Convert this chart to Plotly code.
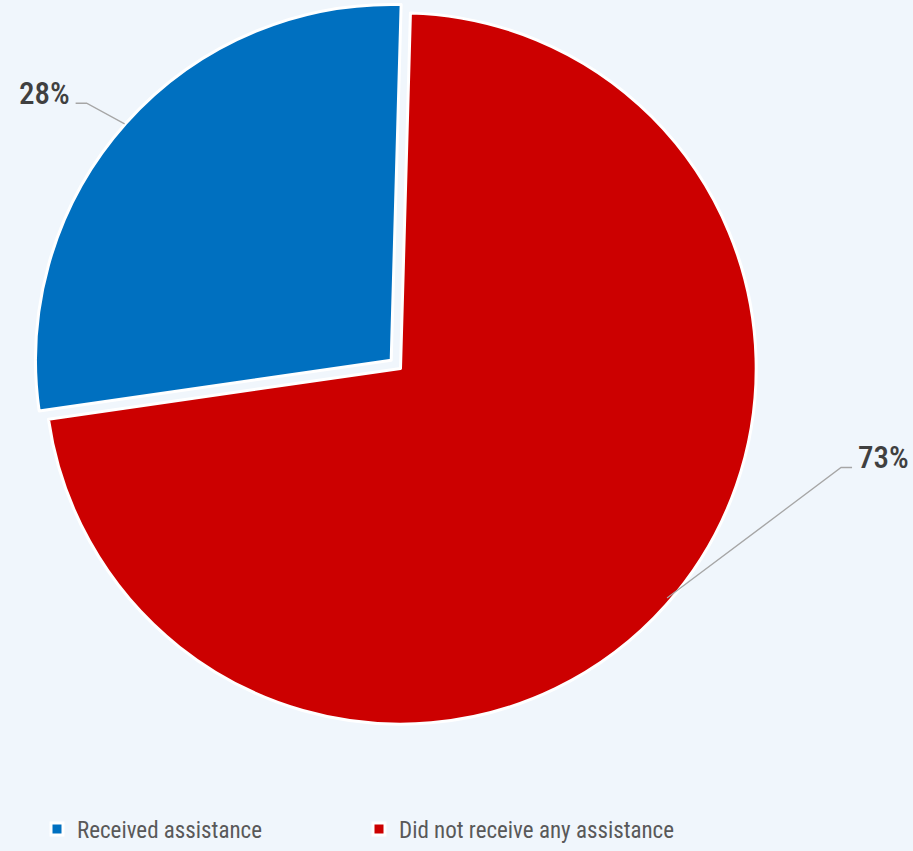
import math
import plotly.graph_objects as go

labels = ["Received assistance", "Did not receive any assistance"]
values = [28, 73]
colors = ["#0070C0", "#CC0000"]
pulls = [0.035, 0]

W, H = 913, 851
BG = "#F0F6FC"
FONT = "Roboto Condensed, Liberation Sans, sans-serif"

# geometry (pixels)
cx, cy, R = 400.5, 372, 357
start_angle = 1.6          # boundary between the slices at the top (deg clockwise from 12 o'clock)
total = sum(values)
# plotly places the first slice clockwise of `rotation`; we want it counterclockwise of start_angle
rotation = start_angle - values[0] / total * 360
# plotly draws the pie a little smaller than the domain box; compensate
avail = (R + 5.5) * (1 + max(pulls))
dom_cy = cy + 3.5

fig = go.Figure(go.Pie(
    labels=labels, values=values, sort=False, direction="counterclockwise",
    rotation=rotation, pull=pulls, textinfo="none", hoverinfo="label+percent",
    marker=dict(colors=colors, line=dict(color="white", width=3)),
    domain=dict(x=[(cx - avail) / W, (cx + avail) / W],
                y=[max(0, 1 - (dom_cy + avail) / H), min(1, 1 - (dom_cy - avail) / H)]),
))

def px2paper(x, y):
    return x / W, 1 - y / H

# label leader lines computed from the slice angles (slices run counterclockwise on screen)
cum = 0
label_style = [(-38, -21, -11), (174, -133, 11)]  # elbow offset dx, dy, horizontal run
for i, v in enumerate(values):
    frac = v / total
    mid = start_angle - (cum + frac / 2) * 360
    cum += frac
    a = math.radians(mid)
    ux, uy = math.sin(a), -math.cos(a)
    ox = cx + pulls[i] * R * ux
    oy = cy + pulls[i] * R * uy
    ex, ey = ox + R * ux, oy + R * uy
    dx, dy, hr = label_style[i]
    bx, by = ex + dx, ey + dy
    tx, ty = bx + hr, by
    p0 = px2paper(ex, ey); p1 = px2paper(bx, by); p2 = px2paper(tx, ty)
    fig.add_shape(type="path", xref="paper", yref="paper",
                  path=f"M {p0[0]},{p0[1]} L {p1[0]},{p1[1]} L {p2[0]},{p2[1]}",
                  line=dict(color="#A6A6A6", width=1.3))
    right = hr > 0
    ax, ay = px2paper(tx + (4 if right else -4), ty - 10)
    fig.add_annotation(x=ax, y=ay, xref="paper", yref="paper", showarrow=False,
                       text=f"{v}%", xanchor="left" if right else "right", yanchor="middle",
                       font=dict(family=FONT, size=31, color="#404040", weight=500))

fig.update_layout(
    width=W, height=H, margin=dict(l=0, r=0, t=0, b=0),
    paper_bgcolor=BG, plot_bgcolor=BG,
    font=dict(family=FONT, size=23, color="#595959"),
    showlegend=True,
    legend=dict(orientation="h", x=37 / W, xanchor="left", y=1 - 845 / H, yanchor="middle",
                font=dict(family=FONT, size=23, color="#595959"),
                bgcolor="rgba(0,0,0,0)", entrywidth=277, itemwidth=30),
)

fig.write_html("out.html")
